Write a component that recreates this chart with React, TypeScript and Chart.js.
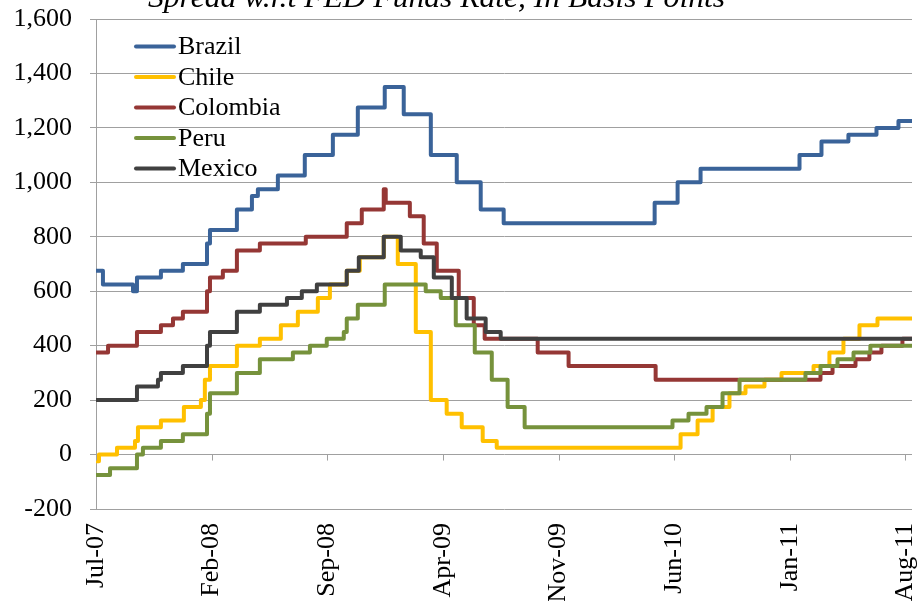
import React, { useEffect, useRef } from 'react';
import { Chart, registerables } from 'chart.js';

Chart.register(...registerables);

// ---- data (x = months since Jul-2007) ----
const xTickMonths = [0, 7, 14, 21, 28, 35, 42, 49];
const xTickLabels = ['Jul-07', 'Feb-08', 'Sep-08', 'Apr-09', 'Nov-09', 'Jun-10', 'Jan-11', 'Aug-11'];
const endMonth = 49.4;

const seriesNames = ['Brazil', 'Chile', 'Colombia', 'Peru', 'Mexico'];
const seriesColors = ['#3A6399', '#FFC000', '#953735', '#76923C', '#404040'];

const brazilT = [0, 0.42, 2.24, 2.48, 3.93, 5.26, 6.72, 6.9, 8.53, 9.44, 9.8, 11.01, 12.64, 14.34, 15.85, 17.48, 18.63, 20.27, 21.84, 23.29, 24.68, 33.82, 35.21, 36.6, 42.59, 43.92, 45.55, 47.25, 48.58];
const brazilV = [675, 625, 600, 650, 675, 700, 775, 825, 900, 950, 975, 1025, 1100, 1175, 1275, 1350, 1250, 1100, 1000, 900, 850, 925, 1000, 1050, 1100, 1150, 1175, 1200, 1225];

const chileT = [0, 0.18, 1.27, 2.36, 2.54, 3.93, 5.32, 6.35, 6.59, 6.9, 8.53, 9.92, 11.19, 12.22, 13.43, 14.16, 15.18, 15.97, 17.42, 18.27, 19.36, 20.27, 21.23, 22.14, 23.41, 24.26, 35.39, 36.42, 37.33, 38.35, 39.32, 40.47, 41.5, 43.44, 44.4, 45.25, 46.22, 47.31];
const chileV = [-25, 0, 25, 50, 100, 125, 175, 200, 275, 325, 400, 425, 475, 525, 575, 625, 675, 725, 800, 700, 450, 200, 150, 100, 50, 25, 75, 125, 175, 225, 250, 275, 300, 325, 375, 425, 475, 500];

const colombiaT = [0, 0.73, 2.48, 3.93, 4.66, 5.26, 6.72, 6.9, 7.68, 8.53, 9.92, 12.7, 15.18, 16.09, 17.42, 17.54, 19.0, 19.84, 20.63, 21.96, 22.87, 23.53, 26.74, 28.61, 33.88, 43.86, 44.59, 45.98, 46.82, 47.55, 48.82];
const colombiaV = [375, 400, 450, 475, 500, 525, 600, 650, 675, 750, 775, 800, 850, 900, 975, 925, 875, 775, 675, 575, 475, 425, 375, 325, 275, 300, 325, 350, 375, 400, 425];

const peruT = [0, 0.85, 2.48, 2.84, 3.93, 5.26, 6.72, 6.9, 8.53, 9.92, 11.92, 12.95, 13.97, 15.0, 15.18, 15.85, 17.48, 19.96, 20.87, 21.78, 22.93, 23.96, 24.92, 25.95, 34.9, 35.87, 36.96, 37.93, 38.96, 42.95, 43.86, 44.89, 45.86, 46.88];
const peruV = [-75, -50, 0, 25, 50, 75, 150, 225, 300, 350, 375, 400, 425, 450, 500, 550, 625, 600, 575, 475, 375, 275, 175, 100, 125, 150, 175, 225, 275, 300, 325, 350, 375, 400];

const mexicoT = [0, 2.48, 3.75, 3.93, 5.26, 6.72, 6.9, 8.53, 9.92, 11.56, 12.46, 13.37, 15.18, 15.91, 17.42, 18.45, 19.66, 20.45, 21.54, 22.44, 23.59, 24.5];
const mexicoV = [200, 250, 275, 300, 325, 400, 450, 525, 550, 575, 600, 625, 675, 725, 800, 750, 725, 650, 575, 500, 450, 425];

const titleText = 'Spread w.r.t FED Funds Rate, In Basis Points';

const FONT = '"Liberation Serif", "Times New Roman", serif';

function toPoints(t: number[], v: number[]) {
  const pts = t.map((x, i) => ({ x, y: v[i] }));
  pts.push({ x: endMonth, y: v[v.length - 1] });
  return pts;
}

function fmt(n: number) {
  return String(n).replace(/\B(?=(\d{3})+(?!\d))/g, ',');
}

const decorPlugin = {
  id: 'decor',
  afterDraw(chart: any) {
    const ctx = chart.ctx;
    const xs = chart.scales.x;
    const ys = chart.scales.y;
    ctx.save();
    // tick marks on the zero line
    const y0 = ys.getPixelForValue(0);
    ctx.strokeStyle = '#A0A0A0';
    ctx.lineWidth = 1;
    xTickMonths.forEach((m) => {
      const px = Math.round(xs.getPixelForValue(m)) + 0.5;
      ctx.beginPath();
      ctx.moveTo(px, y0);
      ctx.lineTo(px, y0 + 6);
      ctx.stroke();
    });
    // legend inside plot
    ctx.font = `26px ${FONT}`;
    ctx.textBaseline = 'middle';
    ctx.textAlign = 'left';
    seriesNames.forEach((name, i) => {
      const y = 46.5 + i * 30.5;
      ctx.strokeStyle = seriesColors[i];
      ctx.lineWidth = 4;
      ctx.lineCap = 'round';
      ctx.beginPath();
      ctx.moveTo(136, y);
      ctx.lineTo(174, y);
      ctx.stroke();
      ctx.fillStyle = '#000';
      ctx.fillText(name, 178, y + 1);
    });
    // title (clipped at top)
    ctx.font = `italic 30px ${FONT}`;
    const w = ctx.measureText(titleText).width;
    const target = 577;
    const sx = target / w;
    ctx.translate(148, 7);
    ctx.scale(sx, 1);
    ctx.textBaseline = 'alphabetic';
    ctx.fillStyle = '#000';
    ctx.fillText(titleText, 0, 0);
    ctx.restore();
  },
};

export default function App() {
  const ref = useRef<HTMLCanvasElement>(null);
  useEffect(() => {
    if (!ref.current) return;
    const series = [
      { t: brazilT, v: brazilV },
      { t: chileT, v: chileV },
      { t: colombiaT, v: colombiaV },
      { t: peruT, v: peruV },
      { t: mexicoT, v: mexicoV },
    ];
    const datasets = series.map((s, i) => ({
      label: seriesNames[i],
      data: toPoints(s.t, s.v),
      borderColor: seriesColors[i],
      backgroundColor: seriesColors[i],
      borderWidth: 4,
      pointRadius: 0,
      stepped: true as any,
      borderJoinStyle: 'round' as const,
      fill: false,
      order: series.length - 1 - i,
    }));
    const chart = new Chart(ref.current, {
      type: 'line',
      data: { datasets },
      options: {
        animation: false,
        responsive: false,
        devicePixelRatio: 1,
        layout: { padding: { top: 19, right: 7, bottom: 0, left: 0 } },
        plugins: { legend: { display: false }, tooltip: { enabled: false }, title: { display: false } },
        scales: {
          x: {
            type: 'linear',
            min: 0,
            max: endMonth,
            grid: { display: false },
            border: { display: false },
            ticks: {
              autoSkip: false,
              minRotation: 90,
              maxRotation: 90,
              padding: 6,
              color: '#000',
              font: { family: FONT, size: 26 },
              callback: (v: any) => {
                const idx = xTickMonths.indexOf(Number(v));
                return idx >= 0 ? xTickLabels[idx] : '';
              },
            },
            afterBuildTicks: (s: any) => {
              s.ticks = xTickMonths.map((m) => ({ value: m }));
            },
            afterFit: (s: any) => {
              s.height = 92;
              s.paddingLeft = 0;
              s.paddingRight = 0;
            },
          },
          y: {
            min: -200,
            max: 1600,
            grid: { color: '#A0A0A0', lineWidth: 1, tickLength: 6, drawTicks: true },
            border: { display: true, color: '#A0A0A0', width: 1 },
            ticks: {
              stepSize: 200,
              padding: 18,
              color: '#000',
              font: { family: FONT, size: 26 },
              callback: (v: any) => fmt(Number(v)),
            },
            afterFit: (s: any) => {
              s.width = 96;
              s.paddingTop = 0;
              s.paddingBottom = 0;
            },
          },
        },
      },
      plugins: [decorPlugin],
    });
    return () => chart.destroy();
  }, []);
  return (
    <div style={{ position: 'fixed', left: 0, top: 0, width: 919, height: 601, background: '#fff' }}>
      <canvas ref={ref} width={919} height={601} style={{ display: 'block' }} />
    </div>
  );
}
